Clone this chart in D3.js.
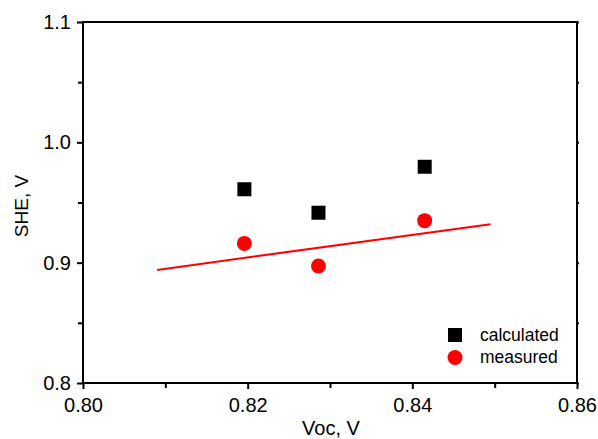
<!DOCTYPE html>
<html>
<head>
<meta charset="UTF-8">
<style>
  body { margin: 0; background: #fff; }
  svg { font-family: "Liberation Sans", Arial, sans-serif; }
</style>
</head>
<body>
<svg></svg>
<script src="https://d3js.org/d3.v7.min.js"></script>
<script>
// data
let vocValues = [0.8196, 0.8286, 0.8415];
let calculated = [0.961, 0.9415, 0.9797];
let measured = [0.916, 0.8972, 0.9349];
let fitX = [0.809, 0.8495];
let fitY = [0.894, 0.932];
let xTicks = [0.80, 0.82, 0.84, 0.86];
let yTicks = [0.8, 0.9, 1.0, 1.1];
let legendLabels = ["calculated", "measured"];

let width = 598, height = 439;
let plotLeft = 83, plotRight = 577, plotTop = 22, plotBottom = 383;

let svg = d3.select("svg").attr("width", width).attr("height", height);

let x = d3.scaleLinear().domain([0.80, 0.86]).range([plotLeft, plotRight]);
let y = d3.scaleLinear().domain([0.8, 1.1]).range([plotBottom, plotTop]);

// minor ticks
let xMinor = d3.range(0, 3).map(i => 0.81 + i * 0.02);
let yMinor = d3.range(0, 3).map(i => 0.85 + i * 0.1);

svg.append("g")
  .attr("transform", "translate(0," + plotBottom + ")")
  .call(d3.axisBottom(x).tickValues(xTicks).tickFormat(d3.format(".2f")).tickSize(6).tickPadding(9));
svg.append("g")
  .attr("transform", "translate(0," + plotBottom + ")")
  .call(d3.axisBottom(x).tickValues(xMinor).tickFormat("").tickSize(5));

svg.append("g")
  .attr("transform", "translate(" + plotLeft + ",0)")
  .call(d3.axisLeft(y).tickValues(yTicks).tickFormat(d3.format(".1f")).tickSize(6).tickPadding(6));
svg.append("g")
  .attr("transform", "translate(" + plotLeft + ",0)")
  .call(d3.axisLeft(y).tickValues(yMinor).tickFormat("").tickSize(5));

// right side small ticks
svg.append("g")
  .attr("transform", "translate(" + plotRight + ",0)")
  .call(d3.axisRight(y).tickValues(yTicks.concat(yMinor)).tickFormat("").tickSize(2));

svg.selectAll(".domain").remove();
svg.selectAll(".tick line").attr("stroke", "#000").attr("stroke-width", 2);
svg.selectAll(".tick text").attr("fill", "#000").style("font-size", "20px");

// frame
svg.append("rect")
  .attr("x", plotLeft).attr("y", plotTop)
  .attr("width", plotRight - plotLeft).attr("height", plotBottom - plotTop)
  .attr("fill", "none").attr("stroke", "#000").attr("stroke-width", 2);

// axis titles
svg.append("text")
  .attr("x", 331).attr("y", 435)
  .attr("text-anchor", "middle").style("font-size", "20px")
  .text("Voc, V");
svg.append("text")
  .attr("transform", "translate(28,206) rotate(-90)")
  .attr("text-anchor", "middle").style("font-size", "19px")
  .text("SHE, V");

// fit line
svg.append("line")
  .attr("x1", x(fitX[0])).attr("y1", y(fitY[0]))
  .attr("x2", x(fitX[1])).attr("y2", y(fitY[1]))
  .attr("stroke", "red").attr("stroke-width", 2);

let sq = 14, r = 7.5;

svg.append("g").selectAll("rect")
  .data(vocValues)
  .enter().append("rect")
    .attr("x", d => x(d) - sq / 2)
    .attr("y", (d, i) => y(calculated[i]) - sq / 2)
    .attr("width", sq).attr("height", sq)
    .attr("fill", "#000");

svg.append("g").selectAll("circle")
  .data(vocValues)
  .enter().append("circle")
    .attr("cx", d => x(d))
    .attr("cy", (d, i) => y(measured[i]))
    .attr("r", r)
    .attr("fill", "red");

// legend
let lg = svg.append("g");
lg.append("rect")
  .attr("x", 455 - sq / 2).attr("y", 335 - sq / 2)
  .attr("width", sq).attr("height", sq).attr("fill", "#000");
lg.append("circle")
  .attr("cx", 455).attr("cy", 357.5).attr("r", r).attr("fill", "red");
lg.selectAll("text")
  .data(legendLabels)
  .enter().append("text")
    .attr("x", 480)
    .attr("y", (d, i) => 341 + i * 22)
    .style("font-size", "17.5px")
    .text(d => d);
</script>
</body>
</html>
